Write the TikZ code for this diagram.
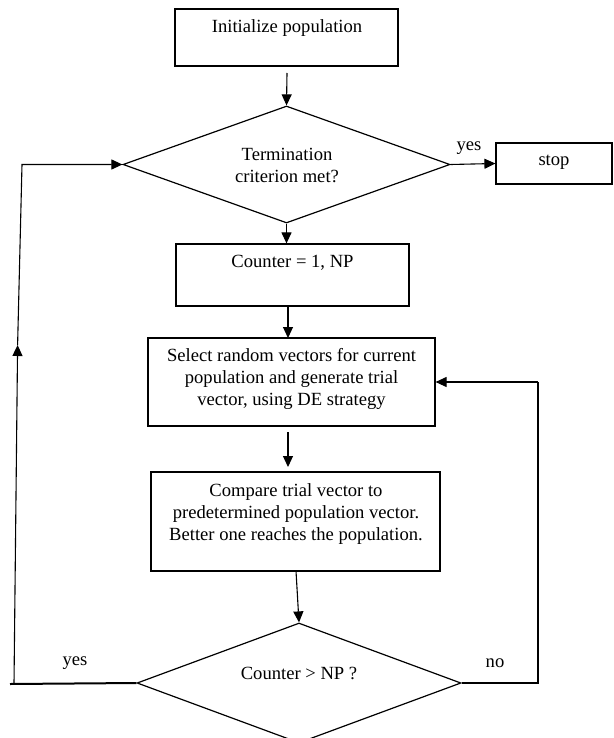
\documentclass[tikz,border=0pt]{standalone}
\usepackage{fontspec}
\setmainfont{Liberation Serif}
\usetikzlibrary{shapes.geometric,arrows.meta}
\begin{document}
\begin{tikzpicture}[x=1pt,y=-1pt,
  every node/.style={font=\fontsize{18.6}{22}\selectfont},
  box/.style={draw, line width=1.2pt, rectangle, inner sep=0pt},
  dia/.style={draw, line width=1.2pt, diamond, inner sep=0pt, shape aspect=2.8},
  txt/.style={align=center, inner sep=0pt},
  conn/.style={line width=1.1pt, -{Triangle[length=11pt,width=10pt]}},
  plain/.style={line width=1.1pt}]
\useasboundingbox (0,0) rectangle (613,738);
% boxes
\node[box, minimum width=223pt, minimum height=57pt] (init) at (286.5,37.5) {};
\node[txt] (initT) at (287,28) {Initialize population};
\node[dia, minimum width=327pt, minimum height=117pt] (d1) at (286.5,164.5) {};
\node[txt] (d1T) at (287,165.5) {Termination\\criterion met?};
\node[box, minimum width=116pt, minimum height=41pt] (stop) at (554,163.5) {};
\node[txt] (stopT) at (554,162) {stop};
\node[box, minimum width=233pt, minimum height=62pt] (cnt) at (292.5,275) {};
\node[txt] (cntT) at (292.5,263) {Counter = 1, NP};
\node[box, minimum width=287pt, minimum height=88pt] (sel) at (291.5,382) {};
\node[txt] (selT) at (291.5,378.5) {Select random vectors for current\\population and generate trial\\vector, using DE strategy};
\node[box, minimum width=289pt, minimum height=99pt] (cmp) at (295.5,521.5) {};
\node[txt] (cmpT) at (296,514) {Compare trial vector to\\predetermined population vector.\\Better one reaches the population.};
\node[dia, minimum width=324pt, minimum height=120pt] (d2) at (299,683) {};
\node[txt] (d2T) at (299,673) {Counter > NP ?};
% labels
\node[txt] (yes1) at (469,148) {yes};
\node[txt] (yes2) at (75,663) {yes};
\node[txt] (no2) at (495,663) {no};
% helper coordinates
\coordinate (a1s) at (287,73);
\coordinate (a3s) at (288,306);
\coordinate (a3e) at (288,338);
\coordinate (a4s) at (288,432);
\coordinate (a4e) at (288,467);
\coordinate (a5s) at (296,571);
\coordinate (lend) at (10,684);
\coordinate (lbot) at (14,684);
\coordinate (lmid) at (17.6,345);
\coordinate (ltop) at (22,164.5);
\coordinate (rbot) at (538,683);
\coordinate (rtop) at (538,382);
% connectors
\draw[conn] (a1s) -- (d1.north);
\draw[conn] (d1.east) -- (stop.west);
\draw[conn] (d1.south) -- (d1.south |- cnt.north);
\draw[conn] (a3s) -- (a3e);
\draw[conn] (a4s) -- (a4e);
\draw[conn] (a5s) -- (d2.north);
\draw[line width=2pt] (d2.west) -- (lend);
\draw[conn] (lbot) -- (lmid);
\draw[conn] (lmid) -- (ltop) -- (d1.west);
\draw[plain] (d2.east) -- (rbot) -- (rtop);
\draw[conn] (rtop) -- (sel.east);
\end{tikzpicture}
\end{document}
